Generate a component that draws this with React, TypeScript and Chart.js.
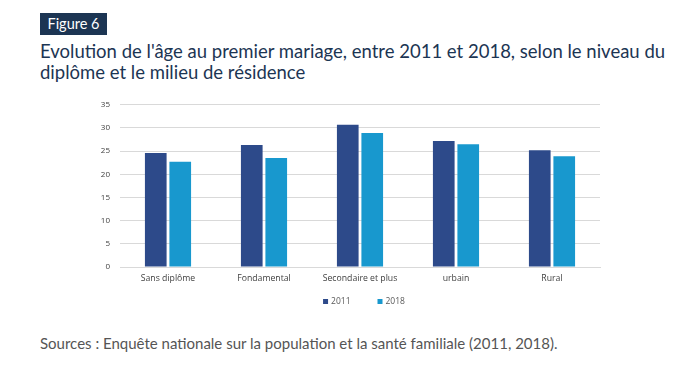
import React, { useEffect, useRef } from "react";
import { Chart, registerables } from "chart.js";

Chart.register(...registerables);

const categories = ["Sans diplôme", "Fondamental", "Secondaire et plus", "urbain", "Rural"];
const values2011 = [24.6, 26.3, 30.7, 27.2, 25.2];
const values2018 = [22.7, 23.5, 28.9, 26.5, 23.9];
const seriesLabels = ["2011", "2018"];
const yTicks = [0, 5, 10, 15, 20, 25, 30, 35];

const FONT = "'Open Sans', 'Noto Sans', sans-serif";
const COLORS = ["#2D4A8A", "#1898CE"];

const legendPlugin = {
  id: "customLegend",
  afterDraw(chart: any) {
    const ctx = chart.ctx;
    const items = chart.data.datasets.map((d: any) => ({ label: d.label, color: d.backgroundColor }));
    ctx.save();
    ctx.font = `8.5px ${FONT}`;
    ctx.textBaseline = "middle";
    ctx.textAlign = "left";
    const box = 5;
    const gap = 3;
    const spacing = 27;
    const widths = items.map((i: any) => box + gap + ctx.measureText(i.label).width);
    const total = widths.reduce((a: number, b: number) => a + b, 0) + spacing * (items.length - 1);
    let x = (chart.chartArea.left + chart.chartArea.right) / 2 - total / 2 + 4;
    const y = chart.chartArea.bottom + 34.5;
    items.forEach((it: any, i: number) => {
      ctx.fillStyle = it.color;
      ctx.fillRect(x, y - box / 2, box, box);
      ctx.fillStyle = "#595959";
      ctx.fillText(it.label, x + box + gap, y);
      x += widths[i] + spacing;
    });
    ctx.restore();
  },
};

export default function App() {
  const ref = useRef<HTMLCanvasElement | null>(null);

  useEffect(() => {
    if (!ref.current) return;
    const chart = new Chart(ref.current, {
      type: "bar",
      data: {
        labels: categories,
        datasets: [
          {
            label: seriesLabels[0],
            data: values2011,
            backgroundColor: COLORS[0],
            categoryPercentage: 0.51,
            barPercentage: 0.885,
          },
          {
            label: seriesLabels[1],
            data: values2018,
            backgroundColor: COLORS[1],
            categoryPercentage: 0.51,
            barPercentage: 0.885,
          },
        ],
      },
      plugins: [legendPlugin],
      options: {
        animation: false,
        responsive: false,
        maintainAspectRatio: false,
        layout: { padding: { left: 0, right: 88, top: 6, bottom: 23 } },
        plugins: {
          tooltip: { enabled: false },
          legend: { display: false },
        },
        scales: {
          x: {
            grid: { display: false, drawTicks: false },
            border: { color: "#D9D9D9" },
            ticks: { color: "#404040", font: { family: FONT, size: 8.7 }, padding: 6, maxRotation: 0 },
            afterFit: (s: any) => {
              s.height = 20;
            },
          },
          y: {
            min: 0,
            max: 35,
            afterBuildTicks: (s: any) => {
              s.ticks = yTicks.map((v) => ({ value: v }));
            },
            grid: { color: "#D9D9D9", drawTicks: false },
            border: { display: false },
            ticks: { color: "#404040", font: { family: FONT, size: 8 }, padding: 10 },
            afterFit: (s: any) => {
              s.width = 40;
            },
          },
        },
      },
    });
    return () => chart.destroy();
  }, []);

  return (
    <div style={{ position: "fixed", left: 0, top: 0, width: 688, height: 372, background: "#fff", fontFamily: "Lato, 'Open Sans', sans-serif" }}>
      <div
        style={{
          position: "absolute",
          left: 40,
          top: 13,
          width: 67,
          height: 22,
          background: "#1C3553",
          color: "#fff",
          fontSize: 14.5,
          lineHeight: "22px",
          textAlign: "center",
        }}
      >
        Figure 6
      </div>
      <div
        style={{
          position: "absolute",
          left: 40,
          top: 41,
          width: 660,
          color: "#1C3553",
          fontSize: 18.5,
          lineHeight: "21px",
          whiteSpace: "nowrap",
        }}
      >
        Evolution de l'âge au premier mariage, entre 2011 et 2018, selon le niveau du
        <br />
        diplôme et le milieu de résidence
      </div>
      <canvas
        ref={ref}
        width={608}
        height={220}
        style={{ position: "absolute", left: 80, top: 90, width: 608, height: 220 }}
      />
      <div
        style={{
          position: "absolute",
          left: 40,
          top: 334,
          color: "#555",
          fontSize: 15,
          lineHeight: "18px",
          whiteSpace: "nowrap",
        }}
      >
        Sources : Enquête nationale sur la population et la santé familiale (2011, 2018).
      </div>
    </div>
  );
}
